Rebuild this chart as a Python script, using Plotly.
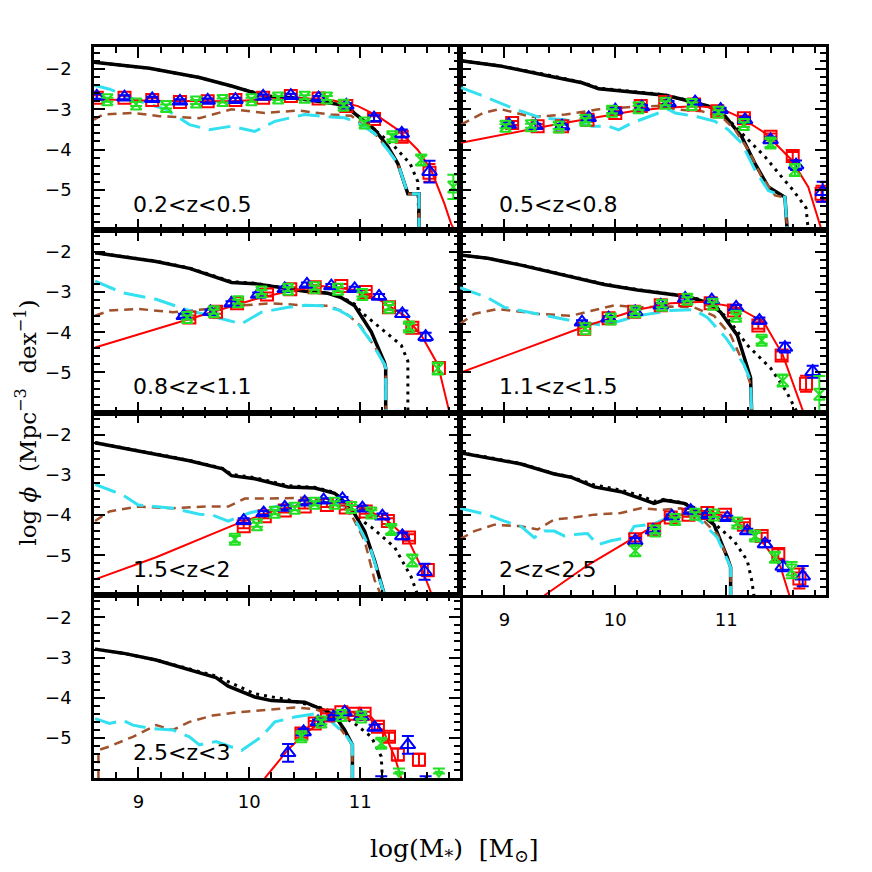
import plotly.graph_objects as go
from plotly.subplots import make_subplots

# redshift bins, one panel each (last row has only the left panel)
z_labels = ["0.2<z<0.5", "0.5<z<0.8", "0.8<z<1.1", "1.1<z<1.5", "1.5<z<2", "2<z<2.5", "2.5<z<3"]
panel_pos = [(1, 1), (1, 2), (2, 1), (2, 2), (3, 1), (3, 2), (4, 1)]

# ---- model curves: (log M, log phi) ----
black_1 = [(8.6,-1.83),(9.1,-1.98),(9.55,-2.21),(9.84,-2.42),(10.14,-2.67),(10.38,-2.71),(10.62,-2.80),(10.86,-2.90),(10.98,-3.17),(11.13,-3.50),(11.25,-3.93),(11.34,-4.35),(11.43,-5.10),(11.53,-5.10),(11.53,-6.0)]
black_2 = [(8.61,-1.79),(8.96,-1.92),(9.40,-2.17),(9.70,-2.34),(9.85,-2.49),(10.15,-2.57),(10.45,-2.65),(10.60,-2.75),(10.84,-2.92),(10.99,-3.17),(11.14,-3.68),(11.26,-4.35),(11.38,-4.93),(11.53,-5.19),(11.55,-6.0)]
black_3 = [(8.61,-2.02),(8.86,-2.12),(9.16,-2.24),(9.46,-2.41),(9.84,-2.76),(10.05,-2.79),(10.29,-2.89),(10.5,-2.98),(10.71,-3.03),(10.83,-3.14),(10.95,-3.34),(11.1,-3.99),(11.22,-4.76),(11.23,-4.89),(11.23,-6.0)]
black_4 = [(8.6,-2.08),(8.85,-2.16),(9.15,-2.33),(9.6,-2.61),(9.9,-2.81),(10.2,-2.95),(10.41,-3.03),(10.65,-3.11),(10.83,-3.26),(10.95,-3.5),(11.1,-4.07),(11.22,-5.13),(11.23,-6.0)]
black_5 = [(8.61,-2.2),(8.86,-2.33),(9.16,-2.49),(9.46,-2.65),(9.76,-2.85),(9.84,-3.02),(10.05,-3.1),(10.35,-3.3),(10.59,-3.33),(10.77,-3.46),(10.92,-3.83),(11.04,-4.4),(11.13,-5.13),(11.22,-6.0)]
black_6 = [(8.6,-2.45),(8.85,-2.57),(9.15,-2.73),(9.45,-2.98),(9.6,-3.06),(9.81,-3.3),(10.05,-3.42),(10.23,-3.59),(10.35,-3.71),(10.44,-3.63),(10.62,-3.71),(10.74,-3.91),(10.89,-4.24),(11.01,-5.05),(11.04,-5.3),(11.04,-6.0)]
black_7 = [(8.61,-2.79),(8.86,-2.89),(9.16,-3.06),(9.46,-3.3),(9.7,-3.5),(9.81,-3.71),(10.05,-3.98),(10.2,-4.07),(10.5,-4.11),(10.65,-4.28),(10.77,-4.44),(10.86,-4.8),(10.93,-5.17),(10.93,-6.0)]

dotted_1 = [(8.6,-1.83),(9.1,-1.98),(9.55,-2.21),(9.84,-2.42),(10.14,-2.65),(10.38,-2.70),(10.62,-2.78),(10.86,-2.88),(11.0,-3.2),(11.15,-3.55),(11.3,-3.9),(11.45,-4.35),(11.52,-4.8),(11.53,-6.0)]
dotted_2 = [(8.61,-1.79),(8.96,-1.92),(9.40,-2.15),(9.70,-2.33),(9.85,-2.47),(10.15,-2.56),(10.45,-2.64),(10.60,-2.74),(10.84,-2.92),(11.05,-3.34),(11.20,-3.76),(11.35,-4.18),(11.5,-4.68),(11.6,-5.0),(11.72,-5.45),(11.74,-6.0)]
dotted_3 = [(8.61,-2.02),(8.86,-2.11),(9.16,-2.23),(9.46,-2.40),(9.84,-2.74),(10.05,-2.78),(10.29,-2.88),(10.5,-2.97),(10.71,-3.02),(10.83,-3.12),(10.95,-3.30),(11.01,-3.5),(11.19,-3.91),(11.37,-4.32),(11.43,-4.72),(11.43,-6.0)]
dotted_4 = [(8.6,-2.08),(8.85,-2.16),(9.15,-2.32),(9.6,-2.60),(9.9,-2.80),(10.2,-2.94),(10.41,-3.02),(10.65,-3.10),(10.83,-3.24),(10.89,-3.3),(11.04,-3.75),(11.19,-4.32),(11.4,-4.89),(11.54,-5.46),(11.63,-5.94),(11.65,-6.0)]
dotted_5 = [(8.61,-2.2),(8.86,-2.32),(9.16,-2.48),(9.46,-2.64),(9.76,-2.84),(9.84,-2.99),(10.05,-3.07),(10.35,-3.27),(10.59,-3.31),(10.77,-3.44),(10.9,-3.8),(10.98,-4.07),(11.1,-4.3),(11.31,-4.8),(11.46,-5.54),(11.52,-6.0)]
dotted_6 = [(8.6,-2.45),(8.85,-2.56),(9.15,-2.72),(9.45,-2.97),(9.6,-3.05),(9.81,-3.25),(10.05,-3.38),(10.23,-3.52),(10.35,-3.66),(10.44,-3.61),(10.62,-3.70),(10.74,-3.85),(10.89,-4.2),(11.07,-4.64),(11.19,-5.13),(11.23,-5.62),(11.25,-6.0)]
dotted_7 = [(8.61,-2.79),(8.86,-2.89),(9.16,-3.06),(9.46,-3.28),(9.7,-3.46),(9.81,-3.6),(10.05,-3.9),(10.35,-4.05),(10.65,-4.25),(10.8,-4.4),(10.95,-4.64),(11.1,-4.97),(11.19,-5.46),(11.2,-6.0)]

cyan_1 = [(8.6,-2.40),(8.74,-2.50),(9.01,-2.80),(9.25,-3.0),(9.46,-3.38),(9.64,-3.51),(9.84,-3.42),(10.05,-3.55),(10.23,-3.30),(10.5,-3.13),(10.74,-3.19),(10.86,-3.21),(10.98,-3.34),(11.13,-3.60),(11.25,-4.01),(11.34,-4.35),(11.43,-5.10),(11.53,-5.10),(11.53,-6.0)]
cyan_2 = [(8.61,-2.46),(8.81,-2.67),(9.10,-3.0),(9.34,-3.22),(9.55,-3.26),(9.79,-3.42),(9.94,-3.42),(10.03,-3.51),(10.15,-3.34),(10.36,-3.13),(10.48,-3.0),(10.54,-3.09),(10.75,-3.19),(10.9,-3.3),(11.02,-3.51),(11.14,-3.84),(11.26,-4.51),(11.38,-5.02),(11.53,-5.19),(11.55,-6.0)]
cyan_3 = [(8.61,-2.73),(8.86,-3.02),(9.16,-3.18),(9.46,-3.46),(9.76,-3.67),(9.93,-3.79),(10.11,-3.5),(10.35,-3.38),(10.5,-3.33),(10.65,-3.34),(10.8,-3.44),(10.95,-3.67),(11.1,-4.24),(11.22,-4.8),(11.23,-4.89),(11.23,-6.0)]
cyan_4 = [(8.6,-2.89),(8.85,-3.14),(9.0,-3.38),(9.15,-3.46),(9.45,-3.63),(9.6,-3.71),(9.9,-3.83),(10.2,-3.59),(10.5,-3.46),(10.71,-3.44),(10.83,-3.63),(11.0,-4.15),(11.16,-4.8),(11.22,-5.21),(11.23,-6.0)]
cyan_5 = [(8.61,-3.24),(8.86,-3.5),(9.0,-3.75),(9.31,-3.83),(9.55,-3.98),(9.66,-3.99),(9.81,-4.15),(10.0,-3.95),(10.3,-3.75),(10.5,-3.68),(10.7,-3.67),(10.86,-3.78),(10.98,-4.24),(11.1,-4.89),(11.22,-6.0)]
cyan_6 = [(8.6,-3.83),(8.85,-3.99),(9.0,-4.15),(9.15,-4.28),(9.27,-4.56),(9.36,-4.4),(9.45,-4.4),(9.54,-4.52),(9.66,-4.48),(9.75,-4.46),(9.84,-4.74),(9.96,-4.64),(10.11,-4.56),(10.17,-4.28),(10.35,-4.22),(10.47,-4.07),(10.65,-3.99),(10.77,-4.15),(10.92,-4.56),(11.01,-5.13),(11.04,-5.3),(11.04,-6.0)]
cyan_7 = [(8.61,-4.52),(8.74,-4.64),(8.86,-4.56),(8.95,-4.68),(9.1,-4.76),(9.31,-4.8),(9.46,-4.97),(9.55,-5.17),(9.7,-5.09),(9.93,-5.31),(10.11,-4.97),(10.23,-4.6),(10.41,-4.48),(10.59,-4.4),(10.71,-4.52),(10.86,-4.89),(10.93,-5.17),(10.93,-6.0)]

brown_1 = [(8.6,-3.26),(8.68,-3.13),(8.95,-3.09),(9.19,-3.17),(9.55,-3.22),(9.84,-3.0),(10.14,-3.09),(10.44,-3.03),(10.74,-3.13),(10.92,-3.16),(11.04,-3.42),(11.16,-3.68),(11.34,-4.35),(11.43,-5.10),(11.53,-5.10),(11.53,-6.0)]
brown_2 = [(8.61,-3.38),(8.81,-3.09),(8.96,-2.99),(9.25,-3.19),(9.55,-3.13),(9.85,-3.0),(10.15,-2.94),(10.42,-2.91),(10.54,-3.0),(10.78,-3.05),(10.96,-3.19),(11.08,-3.51),(11.2,-4.01),(11.32,-4.68),(11.44,-5.14),(11.53,-5.19),(11.55,-6.0)]
brown_3 = [(8.61,-3.59),(8.74,-3.46),(9.0,-3.42),(9.31,-3.5),(9.55,-3.44),(9.9,-3.34),(10.2,-3.28),(10.5,-3.33),(10.71,-3.34),(10.86,-3.5),(11.0,-3.83),(11.16,-4.48),(11.23,-4.89),(11.23,-6.0)]
brown_4 = [(8.6,-3.79),(8.73,-3.54),(8.94,-3.42),(9.3,-3.54),(9.6,-3.59),(9.81,-3.46),(9.99,-3.33),(10.2,-3.38),(10.5,-3.36),(10.71,-3.38),(10.89,-3.59),(11.04,-4.07),(11.16,-4.8),(11.22,-5.3),(11.23,-6.0)]
brown_5 = [(8.61,-4.15),(8.74,-3.91),(9.0,-3.79),(9.31,-3.83),(9.61,-3.79),(9.81,-3.79),(9.96,-3.59),(10.2,-3.59),(10.5,-3.57),(10.65,-3.63),(10.89,-3.83),(11.04,-4.64),(11.13,-5.62),(11.19,-6.0)]
brown_6 = [(8.6,-4.6),(8.73,-4.4),(8.91,-4.24),(9.15,-4.28),(9.3,-4.36),(9.45,-4.11),(9.6,-4.07),(9.81,-3.99),(10.05,-3.95),(10.23,-3.83),(10.41,-3.87),(10.59,-3.83),(10.77,-4.07),(10.92,-4.48),(11.01,-5.05),(11.04,-5.3),(11.04,-6.0)]
brown_7 = [(8.64,-6.0),(8.64,-5.3),(8.74,-5.21),(8.95,-4.97),(9.16,-4.68),(9.31,-4.8),(9.46,-4.6),(9.67,-4.44),(9.9,-4.36),(10.2,-4.28),(10.41,-4.24),(10.59,-4.28),(10.71,-4.4),(10.83,-4.8),(10.93,-5.17),(10.93,-6.0)]

fit_1 = [(8.6,-2.75),(9.25,-2.79),(9.84,-2.80),(10.44,-2.72),(10.74,-2.77),(10.98,-2.92),(11.16,-3.17),(11.34,-3.51),(11.52,-4.01),(11.64,-4.51),(11.76,-5.35),(11.82,-5.85),(11.85,-6.0)]
fit_2 = [(8.61,-3.83),(9.40,-3.41),(9.85,-3.19),(10.15,-3.05),(10.45,-2.96),(10.75,-2.92),(10.96,-2.99),(11.14,-3.22),(11.35,-3.59),(11.59,-4.26),(11.74,-4.93),(11.86,-6.0)]
fit_3 = [(8.61,-4.38),(9.4,-3.71),(9.76,-3.42),(10.05,-3.18),(10.35,-2.98),(10.65,-2.85),(10.95,-2.95),(11.19,-3.22),(11.4,-3.59),(11.55,-4.07),(11.7,-4.8),(11.8,-5.94),(11.81,-6.0)]
fit_4 = [(8.6,-5.01),(9.15,-4.44),(9.75,-3.83),(10.2,-3.44),(10.5,-3.28),(10.8,-3.24),(11.1,-3.38),(11.34,-3.75),(11.51,-4.56),(11.69,-5.94),(11.7,-6.0)]
fit_5 = [(8.61,-5.6),(9.16,-5.05),(9.87,-4.24),(10.2,-3.91),(10.5,-3.71),(10.8,-3.67),(11.04,-3.83),(11.25,-4.15),(11.43,-4.6),(11.55,-5.29),(11.64,-5.94),(11.66,-6.0)]
fit_6 = [(9.36,-6.0),(9.75,-5.25),(10.17,-4.56),(10.5,-4.03),(10.71,-3.95),(10.95,-3.99),(11.16,-4.28),(11.34,-4.72),(11.49,-5.29),(11.56,-5.94),(11.57,-6.0)]
fit_7 = [(10.14,-6.0),(10.35,-5.29),(10.5,-4.89),(10.65,-4.6),(10.8,-4.4),(10.95,-4.36),(11.1,-4.48),(11.22,-4.89),(11.31,-5.46),(11.37,-6.0)]

# ---- measurements: (log M, log phi, error) ----
square_1 = [(8.625,-2.71,.06),(8.875,-2.71,.05),(9.125,-2.77,.05),(9.375,-2.82,.05),(9.625,-2.80,.05),(9.875,-2.77,.05),(10.125,-2.71,.05),(10.375,-2.67,.05),(10.625,-2.73,.05),(10.875,-2.92,.06),(11.125,-3.24,.07),(11.375,-3.68,.1),(11.625,-4.58,.22)]
square_2 = [(9.07,-3.34,.05),(9.30,-3.42,.05),(9.52,-3.42,.05),(9.75,-3.26,.05),(10.0,-3.09,.05),(10.23,-2.92,.05),(10.45,-2.82,.05),(10.71,-2.88,.05),(10.92,-3.05,.05),(11.16,-3.22,.06),(11.40,-3.68,.08),(11.6,-4.16,.1),(11.86,-5.1,.2)]
square_3 = [(9.46,-3.63,.05),(9.70,-3.49,.05),(9.89,-3.28,.05),(10.16,-3.06,.05),(10.37,-2.93,.05),(10.59,-2.88,.05),(10.83,-2.85,.05),(11.05,-3.0,.05),(11.26,-3.38,.06),(11.47,-3.89,.08),(11.71,-4.89,.15)]
square_4 = [(9.72,-3.91,.05),(9.94,-3.65,.05),(10.17,-3.49,.05),(10.41,-3.33,.05),(10.63,-3.2,.05),(10.86,-3.28,.05),(11.07,-3.46,.06),(11.29,-3.83,.08),(11.5,-4.58,.1),(11.72,-5.28,.2)]
square_5 = [(9.95,-4.28,.05),(10.14,-4.03,.05),(10.32,-3.89,.05),(10.5,-3.79,.05),(10.7,-3.75,.05),(10.87,-3.81,.05),(11.05,-3.91,.06),(11.25,-4.15,.07),(11.44,-4.56,.08),(11.61,-5.37,.15)]
square_6 = [(10.18,-4.6,.06),(10.35,-4.36,.05),(10.5,-4.06,.05),(10.66,-3.99,.05),(10.83,-3.95,.05),(10.99,-3.99,.05),(11.16,-4.24,.06),(11.32,-4.52,.08),(11.47,-4.97,.12),(11.66,-5.58,.25)]
square_7 = [(10.47,-4.89,.1),(10.59,-4.64,.06),(10.7,-4.44,.05),(10.83,-4.36,.05),(10.95,-4.4,.05),(11.04,-4.4,.05),(11.16,-4.72,.07),(11.26,-4.97,.1),(11.34,-5.41,.15),(11.53,-5.54,.15)]

tri_1 = [(8.625,-2.68,.06),(8.875,-2.70,.05),(9.125,-2.74,.05),(9.375,-2.80,.05),(9.625,-2.78,.05),(9.875,-2.76,.05),(10.125,-2.68,.05),(10.375,-2.66,.05),(10.625,-2.72,.05),(10.875,-2.90,.06),(11.125,-3.22,.07),(11.375,-3.60,.1),(11.625,-4.55,.27)]
tri_2 = [(9.04,-3.38,.05),(9.28,-3.41,.05),(9.52,-3.42,.05),(9.76,-3.21,.05),(10.0,-3.02,.05),(10.24,-2.94,.05),(10.48,-2.84,.05),(10.72,-2.82,.05),(10.95,-3.01,.05),(11.17,-3.26,.06),(11.40,-3.76,.08),(11.63,-4.39,.12),(11.87,-5.05,.25)]
tri_3 = [(9.41,-3.59,.05),(9.65,-3.49,.05),(9.84,-3.28,.05),(10.08,-3.06,.05),(10.32,-2.92,.05),(10.52,-2.81,.05),(10.74,-2.85,.05),(10.95,-2.92,.05),(11.17,-3.11,.06),(11.38,-3.54,.08),(11.59,-4.11,.1)]
tri_4 = [(9.7,-3.75,.05),(9.94,-3.65,.05),(10.18,-3.49,.05),(10.41,-3.33,.05),(10.63,-3.16,.05),(10.87,-3.2,.05),(11.09,-3.38,.06),(11.3,-3.71,.08),(11.53,-4.38,.12),(11.78,-4.98,.15)]
tri_5 = [(9.95,-4.14,.06),(10.13,-3.95,.05),(10.32,-3.81,.05),(10.5,-3.68,.05),(10.67,-3.63,.05),(10.84,-3.6,.05),(11.02,-3.83,.06),(11.2,-4.03,.07),(11.38,-4.52,.08),(11.58,-5.41,.2)]
tri_6 = [(10.18,-4.64,.07),(10.34,-4.38,.05),(10.51,-4.03,.05),(10.68,-3.89,.05),(10.83,-4.0,.05),(11.01,-4.07,.05),(11.19,-4.4,.06),(11.35,-4.72,.08),(11.51,-5.28,.12),(11.69,-5.52,.25)]
tri_7 = [(10.35,-5.37,.22),(10.49,-4.85,.08),(10.62,-4.6,.06),(10.76,-4.48,.05),(10.86,-4.36,.05),(11.01,-4.46,.05),(11.13,-4.74,.07),(11.43,-5.17,.22),(11.19,-6.25,.3),(11.59,-6.25,.3)]

green_1 = [(8.72,-2.76,.05),(8.98,-2.87,.05),(9.25,-2.93,.05),(9.52,-2.82,.05),(9.76,-2.78,.05),(10.02,-2.76,.05),(10.26,-2.72,.05),(10.5,-2.70,.05),(10.7,-2.72,.05),(10.85,-2.9,.05),(11.04,-3.34,.06),(11.29,-3.68,.07),(11.55,-4.26,.12),(11.84,-4.93,.3)]
green_2 = [(9.01,-3.42,.05),(9.24,-3.41,.05),(9.49,-3.44,.05),(9.73,-3.27,.05),(9.97,-3.05,.05),(10.21,-2.96,.05),(10.45,-2.85,.05),(10.69,-2.88,.05),(10.93,-3.07,.05),(11.16,-3.38,.06),(11.40,-3.84,.1),(11.62,-4.51,.15)]
green_3 = [(9.44,-3.63,.05),(9.68,-3.49,.05),(9.9,-3.24,.05),(10.11,-3.0,.05),(10.35,-2.93,.05),(10.59,-2.89,.05),(10.8,-2.93,.05),(11.02,-3.06,.05),(11.26,-3.38,.06),(11.44,-3.87,.08),(11.7,-4.9,.15)]
green_4 = [(9.73,-3.91,.05),(9.96,-3.67,.05),(10.18,-3.49,.05),(10.42,-3.33,.05),(10.65,-3.18,.05),(10.88,-3.3,.05),(11.09,-3.6,.06),(11.32,-4.2,.08),(11.51,-5.2,.15),(11.84,-5.54,.45)]
green_5 = [(9.87,-4.6,.08),(10.07,-4.24,.05),(10.23,-3.93,.05),(10.41,-3.83,.05),(10.59,-3.71,.05),(10.77,-3.71,.05),(10.92,-3.81,.06),(11.1,-3.95,.07),(11.28,-4.36,.1),(11.47,-5.13,.15)]
green_6 = [(10.18,-4.89,.12),(10.36,-4.4,.05),(10.54,-4.11,.05),(10.72,-3.98,.05),(10.89,-4.0,.05),(11.1,-4.2,.06),(11.26,-4.52,.08),(11.44,-5.05,.12),(11.59,-5.37,.2)]
green_7 = [(10.47,-4.97,.08),(10.65,-4.6,.06),(10.83,-4.44,.05),(11.01,-4.48,.05),(11.19,-5.13,.1)]
green_limit_7 = [(11.35,-5.88),(11.71,-5.88)]

black_all = [black_1, black_2, black_3, black_4, black_5, black_6, black_7]
dotted_all = [dotted_1, dotted_2, dotted_3, dotted_4, dotted_5, dotted_6, dotted_7]
cyan_all = [cyan_1, cyan_2, cyan_3, cyan_4, cyan_5, cyan_6, cyan_7]
brown_all = [brown_1, brown_2, brown_3, brown_4, brown_5, brown_6, brown_7]
fit_all = [fit_1, fit_2, fit_3, fit_4, fit_5, fit_6, fit_7]
square_all = [square_1, square_2, square_3, square_4, square_5, square_6, square_7]
tri_all = [tri_1, tri_2, tri_3, tri_4, tri_5, tri_6, tri_7]
green_all = [green_1, green_2, green_3, green_4, green_5, green_6, green_7]

RED = "#FF0000"
BLUE = "#0000FF"
GREEN = "#22E022"
CYAN = "#33E0F0"
BROWN = "#A0522D"

fig = make_subplots(rows=4, cols=2, horizontal_spacing=0, vertical_spacing=0,
                    specs=[[{}, {}], [{}, {}], [{}, {}], [{}, None]])


def line(pts, color, width, dash, r, c):
    fig.add_trace(go.Scatter(x=[p[0] for p in pts], y=[p[1] for p in pts], mode="lines",
                             line=dict(color=color, width=width, dash=dash)), row=r, col=c)


def points(pts, color, symbol, size, r, c):
    fig.add_trace(go.Scatter(
        x=[p[0] for p in pts], y=[p[1] for p in pts], mode="markers",
        marker=dict(symbol=symbol, size=size, color=color, line=dict(color=color, width=2)),
        error_y=dict(type="data", array=[p[2] for p in pts], color=color, thickness=2, width=6)),
        row=r, col=c)


for i, (r, c) in enumerate(panel_pos):
    line(black_all[i], "black", 3.5, "solid", r, c)
    line(dotted_all[i], "black", 3, "3px,5px", r, c)
    line(brown_all[i], BROWN, 2.5, "9px,6px", r, c)
    line(cyan_all[i], CYAN, 3, "22px,9px", r, c)
    line(fit_all[i], RED, 2, "solid", r, c)
    points(square_all[i], RED, "square-open", 12, r, c)
    points(tri_all[i], BLUE, "triangle-up-open", 13, r, c)
    points(green_all[i], GREEN, "hourglass-open", 11, r, c)

    fig.add_annotation(text=z_labels[i].replace("<", "&lt;"), x=8.93, y=-5.36,
                       xanchor="left", yanchor="middle", showarrow=False,
                       font=dict(family="DejaVu Sans", size=22, color="black"), row=r, col=c)

    fig.update_xaxes(range=[8.6, 11.9], tickmode="linear", tick0=0, dtick=1,
                     ticks="inside", ticklen=11, tickwidth=2, tickcolor="black",
                     minor=dict(dtick=0.2, tick0=0, ticks="inside", ticklen=6, tickwidth=1.5,
                                tickcolor="black", showgrid=False),
                     showline=True, linewidth=2.5, linecolor="black", mirror="allticks",
                     showgrid=False, zeroline=False, automargin=False,
                     showticklabels=(r, c) in [(4, 1), (3, 2)], ticklabelstandoff=6,
                     tickfont=dict(family="DejaVu Sans", size=18, color="black"), row=r, col=c)
    fig.update_yaxes(range=[-5.995, -1.45], tickmode="linear", tick0=0, dtick=1,
                     ticks="inside", ticklen=11, tickwidth=2, tickcolor="black",
                     minor=dict(dtick=0.2, tick0=0, ticks="inside", ticklen=6, tickwidth=1.5,
                                tickcolor="black", showgrid=False),
                     showline=True, linewidth=2.5, linecolor="black", mirror="allticks",
                     showgrid=False, zeroline=False, automargin=False,
                     showticklabels=(c == 1), ticklabelstandoff=16,
                     tickfont=dict(family="DejaVu Sans", size=18, color="black"), row=r, col=c)

# green upper limits in the last panel
fig.add_trace(go.Scatter(x=[p[0] for p in green_limit_7], y=[p[1] for p in green_limit_7],
                         mode="markers", marker=dict(symbol="triangle-down-open", size=7, color=GREEN,
                                                     line=dict(color=GREEN, width=2)),
                         error_y=dict(type="data", symmetric=False, array=[0.12, 0.12],
                                      arrayminus=[0, 0], color=GREEN, thickness=2, width=6)),
              row=4, col=1)

fig.add_annotation(text="log <i>ϕ</i>\u00a0\u00a0(Mpc<sup>−3</sup>\u00a0\u00a0dex<sup>−1</sup>)",
                   xref="paper", yref="paper", x=-0.093, y=0.486, xanchor="center", yanchor="middle",
                   textangle=-90, showarrow=False,
                   font=dict(family="DejaVu Serif", size=23, color="black"))
fig.add_annotation(text="log(M<sub>*</sub>)\u00a0\u00a0[M<sub>⊙</sub>]", xref="paper", yref="paper",
                   x=0.492, y=-0.098, xanchor="center", yanchor="middle",
                   showarrow=False, font=dict(family="DejaVu Serif", size=25, color="black"))

# page body adds an 8px offset, so the plot area is set 8px up and left
fig.update_layout(width=872, height=872, template="none", showlegend=False,
                  margin=dict(l=86, r=54, t=39, b=102),
                  plot_bgcolor="white", paper_bgcolor="white")

fig.write_html("out.html")
